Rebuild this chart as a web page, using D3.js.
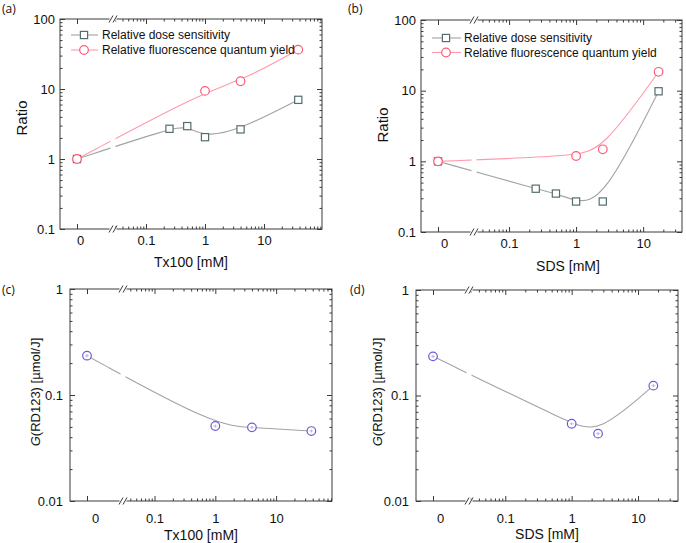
<!DOCTYPE html>
<html><head><meta charset="utf-8">
<script src="https://cdn.jsdelivr.net/npm/d3@7"></script>
<style>
body{margin:0;background:#fff}
svg{display:block}
text{font-family:"Liberation Sans",Arial,sans-serif;fill:#111}
</style>
</head><body><svg id="chart" width="686" height="543"></svg>
<script>
// ---------- data ----------
const xA_dose = [0, 0.25, 0.5, 1, 4, 38];
const yA_dose = [1, 2.7, 2.95, 2.05, 2.65, 7.0];
const xA_qy   = [0, 1, 4, 38];
const yA_qy   = [1, 9.4, 12.9, 36.5];
const xB_dose = [0, 0.25, 0.5, 1, 2.5, 17];
const yB_dose = [1, 0.41, 0.35, 0.27, 0.27, 9.8];
const xB_qy   = [0, 1, 2.5, 17];
const yB_qy   = [1, 1.19, 1.48, 18.5];
const xC = [0, 1, 4, 38];
const yC = [0.235, 0.051, 0.0495, 0.0457];
const eC = [0.008, 0.0015, 0.0015, 0.0015];
const xD = [0, 1, 2.5, 17];
const yD = [0.235, 0.054, 0.0435, 0.124];
const eD = [0.008, 0.0015, 0.0015, 0.004];
const xTickValues = [0.1, 1, 10];
const xTickLabels = ["0.1", "1", "10"];
const zeroLabel = "0";
const yTicksRatio = [0.1, 1, 10, 100];
const yTicksG = [0.01, 0.1, 1];
const legendLabels = ["Relative dose sensitivity", "Relative fluorescence quantum yield"];

// ---------- styles ----------
const GRAY_LINE = "#a3a3a3", SQ_STROKE = "#566d70";
const PINK_LINE = "#ff9aaa", PINK_STROKE = "#ff5a78";
const BLUE_STROKE = "#6b5cd6";
const FRAME = "#3a3a3a";

const svg = d3.select("#chart");

const panels = [
  {label:"(a)", lab:[2,12.5], left:60, top:19, w:262, h:210, zeroPx:17, breakPx:53, zeroDx:3,
   xDom:[0.0276,96], yDom:[0.1,100], yTicks:yTicksRatio, xTitle:"Tx100 [mM]", yTitle:"Ratio",
   xPad:7, yPad:5, xTitleX:131, xTitleY:33, yTitleX:-38, yTitleY:99,
   series:[
     {x:xA_dose, y:yA_dose, line:GRAY_LINE, stroke:SQ_STROKE, shape:"square"},
     {x:xA_qy, y:yA_qy, line:PINK_LINE, stroke:PINK_STROKE, shape:"circle"}],
   legend:{x0:11, x1:38, mx:24, tx:42, rows:[16,31]}},
  {label:"(b)", lab:[348,12.5], left:421, top:20, w:261, h:212, zeroPx:17, breakPx:53, zeroDx:6,
   xDom:[0.030,38], yDom:[0.1,100], yTicks:yTicksRatio, xTitle:"SDS [mM]", yTitle:"Ratio",
   xPad:7, yPad:5, xTitleX:147, xTitleY:34, yTitleX:-38, yTitleY:105,
   series:[
     {x:xB_dose, y:yB_dose, line:GRAY_LINE, stroke:SQ_STROKE, shape:"square"},
     {x:xB_qy, y:yB_qy, line:PINK_LINE, stroke:PINK_STROKE, shape:"circle"}],
   legend:{x0:11, x1:40, mx:25, tx:43, rows:[18,32.5]}},
  {label:"(c)", lab:[2,294], left:70, top:289, w:262, h:212, zeroPx:17, breakPx:53, zeroDx:8,
   xDom:[0.0303,83], yDom:[0.01,1], yTicks:yTicksG, xTitle:"Tx100 [mM]", yTitle:"G",
   xPad:13, yPad:7, xTitleX:131, xTitleY:34, yTitleX:-34.5, yTitleY:103,
   series:[{x:xC, y:yC, e:eC, line:GRAY_LINE, stroke:BLUE_STROKE, shape:"circle"}]},
  {label:"(d)", lab:[350,294], left:416, top:290, w:262, h:211, zeroPx:17, breakPx:53, zeroDx:7,
   xDom:[0.0284,40], yDom:[0.01,1], yTicks:yTicksG, xTitle:"SDS [mM]", yTitle:"G",
   xPad:13, yPad:7, xTitleX:131, xTitleY:33, yTitleX:-39, yTitleY:102,
   series:[{x:xD, y:yD, e:eD, line:GRAY_LINE, stroke:BLUE_STROKE, shape:"circle"}]}
];

function minorTicks(dom){
  const out=[];
  const lo=Math.floor(Math.log10(dom[0])), hi=Math.ceil(Math.log10(dom[1]));
  for(let k=lo;k<=hi;k++) for(let m=2;m<=9;m++){
    const v=m*Math.pow(10,k);
    if(v>dom[0] && v<dom[1]) out.push(v);
  }
  return out;
}

function drawMarker(sel, shape, cx, cy, stroke){
  if(shape==="square"){
    sel.append("rect").attr("x",cx-3.6).attr("y",cy-3.6).attr("width",7.2).attr("height",7.2)
      .attr("fill","#fff").attr("stroke",stroke).attr("stroke-width",1.2);
  } else {
    sel.append("circle").attr("cx",cx).attr("cy",cy).attr("r",4.3)
      .attr("fill","#fff").attr("stroke",stroke).attr("stroke-width",1.2);
  }
}

function styleAxis(g, fs){
  g.select(".domain").remove();
  g.selectAll("line").attr("stroke",FRAME);
  g.selectAll("text").attr("font-family",'"Liberation Sans",Arial,sans-serif')
    .attr("font-size",fs).attr("fill","#111");
}

panels.forEach(p=>{
  svg.append("text").attr("x",p.lab[0]).attr("y",p.lab[1])
    .attr("font-size",12).style("font-family",'"Open Sans","Liberation Sans",sans-serif').text(p.label);

  const g = svg.append("g").attr("transform",`translate(${p.left},${p.top})`);
  const xLog = d3.scaleLog().domain(p.xDom).range([p.breakPx, p.w]);
  const xZero = d3.scaleLinear().domain([0,1]).range([p.zeroPx, p.breakPx]);
  const xPos = v => v===0 ? xZero(0) : xLog(v);
  const y = d3.scaleLog().domain(p.yDom).range([p.h, 0]);

  const line = d3.line().x(d=>xPos(d[0])).y(d=>y(d[1])).curve(d3.curveBasis);

  // curves
  p.series.forEach(s=>{
    const pts = s.x.map((v,i)=>[v, s.y[i]]);
    g.append("path").attr("d",line(pts)).attr("fill","none")
      .attr("stroke",s.line).attr("stroke-width",1.1);
  });
  // gap at the axis break
  g.append("rect").attr("x",p.breakPx-2.5).attr("y",1).attr("width",5).attr("height",p.h-2).attr("fill","#fff");

  // markers + error bars
  p.series.forEach(s=>{
    s.x.forEach((v,i)=>{
      const cx=xPos(v), cy=y(s.y[i]);
      drawMarker(g, s.shape, cx, cy, s.stroke);
      if(s.e){
        const e=s.e[i];
        const y1=y(s.y[i]-e), y2=y(s.y[i]+e);
        g.append("line").attr("x1",cx).attr("x2",cx).attr("y1",y1).attr("y2",y2)
          .attr("stroke","#9a96c4").attr("stroke-width",0.8);
        g.append("line").attr("x1",cx-2).attr("x2",cx+2).attr("y1",cy).attr("y2",cy)
          .attr("stroke","#b0acd0").attr("stroke-width",0.7);
      }
    });
  });

  // legend
  if(p.legend){
    const L=p.legend;
    p.series.forEach((s,i)=>{
      const yy=L.rows[i];
      g.append("line").attr("x1",L.x0).attr("x2",L.x1).attr("y1",yy).attr("y2",yy)
        .attr("stroke",s.line).attr("stroke-width",1.1);
      drawMarker(g, s.shape, L.mx, yy, s.stroke);
      g.append("text").attr("x",L.tx).attr("y",yy).attr("dy","0.35em")
        .attr("font-size",12).attr("fill","#222").text(legendLabels[i]);
    });
  }

  const xMinor = minorTicks(p.xDom);
  const yMinor = minorTicks(p.yDom);
  const fmtY = d => String(d);

  // bottom axis
  g.append("g").attr("transform",`translate(0,${p.h})`)
    .call(d3.axisBottom(xLog).tickValues(xTickValues).tickSize(-5).tickPadding(p.xPad)
      .tickFormat((d,i)=>xTickLabels[i])).call(a=>styleAxis(a,13));
  g.append("g").attr("transform",`translate(0,${p.h})`)
    .call(d3.axisBottom(xLog).tickValues(xMinor).tickSize(-2.5).tickFormat("")).call(a=>styleAxis(a,13));
  g.append("g").attr("transform",`translate(0,${p.h})`)
    .call(d3.axisBottom(xZero).tickValues([0]).tickSize(-5).tickPadding(p.xPad).tickFormat(()=>zeroLabel))
    .call(a=>{styleAxis(a,13); a.selectAll("text").attr("dx",p.zeroDx);});
  // top axis
  g.append("g").call(d3.axisTop(xLog).tickValues(xTickValues).tickSize(-5).tickFormat("")).call(a=>styleAxis(a,13));
  g.append("g").call(d3.axisTop(xLog).tickValues(xMinor).tickSize(-2.5).tickFormat("")).call(a=>styleAxis(a,13));
  g.append("g").call(d3.axisTop(xZero).tickValues([0]).tickSize(-5).tickFormat("")).call(a=>styleAxis(a,13));
  // left axis
  g.append("g").call(d3.axisLeft(y).tickValues(p.yTicks).tickSize(-5).tickPadding(p.yPad).tickFormat(fmtY))
    .call(a=>styleAxis(a,13));
  g.append("g").call(d3.axisLeft(y).tickValues(yMinor).tickSize(-2.5).tickFormat("")).call(a=>styleAxis(a,13));
  // right axis
  g.append("g").attr("transform",`translate(${p.w},0)`)
    .call(d3.axisRight(y).tickValues(p.yTicks).tickSize(-5).tickFormat("")).call(a=>styleAxis(a,13));
  g.append("g").attr("transform",`translate(${p.w},0)`)
    .call(d3.axisRight(y).tickValues(yMinor).tickSize(-2.5).tickFormat("")).call(a=>styleAxis(a,13));

  // frame
  g.append("rect").attr("x",0).attr("y",0).attr("width",p.w).attr("height",p.h)
    .attr("fill","none").attr("stroke",FRAME).attr("stroke-width",1);

  // break marks
  [0,p.h].forEach(yy=>{
    g.append("rect").attr("x",p.breakPx-3.5).attr("y",yy-1.5).attr("width",7).attr("height",3).attr("fill","#fff");
    [-2,2].forEach(dx=>{
      g.append("line").attr("x1",p.breakPx+dx-2).attr("y1",yy+3.5)
        .attr("x2",p.breakPx+dx+2).attr("y2",yy-3.5)
        .attr("stroke",FRAME).attr("stroke-width",1);
    });
  });

  // axis titles
  g.append("text").attr("x",p.xTitleX).attr("y",p.h+p.xTitleY).attr("dy","0.35em")
    .attr("text-anchor","middle").attr("font-size",14).text(p.xTitle);
  const yt = g.append("text").attr("transform",`translate(${p.yTitleX},${p.yTitleY}) rotate(-90)`)
    .attr("text-anchor","middle").attr("dy","0.35em");
  if(p.yTitle==="G"){
    yt.attr("font-size",13);
    yt.append("tspan").attr("font-style","italic").text("G");
    yt.append("tspan").text("(RD123) [µmol/J]");
  } else {
    yt.attr("font-size",15).text(p.yTitle);
  }
});
</script>
</body></html>
